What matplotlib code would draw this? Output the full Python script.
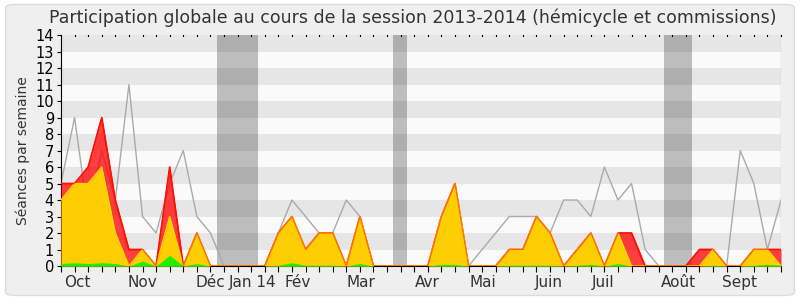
import numpy as np
import matplotlib
matplotlib.use('Agg')
import matplotlib.pyplot as plt
from matplotlib.patches import FancyBboxPatch

# semaines de la session (0 = debut octobre 2013)
semaines = np.arange(54)

rouge = [5, 5, 6, 9, 4, 1, 1, 0, 6, 0, 2, 0, 0, 0, 0, 0, 2, 3, 1, 2, 2, 0, 3, 0, 0, 0, 0,
         0, 3, 5, 0, 0, 0, 1, 1, 3, 2, 0, 1, 2, 0, 2, 2, 0, 0, 0, 0, 1, 1, 0, 0, 1, 1, 1]
jaune = [4, 5, 5, 6, 2, 0, 1, 0, 3, 0, 2, 0, 0, 0, 0, 0, 2, 3, 1, 2, 2, 0, 3, 0, 0, 0, 0,
         0, 3, 5, 0, 0, 0, 1, 1, 3, 2, 0, 1, 2, 0, 2, 0, 0, 0, 0, 0, 0, 1, 0, 0, 1, 1, 0]
vert = [0.15, 0.2, 0.15, 0.2, 0.15, 0, 0.3, 0, 0.65, 0, 0.15, 0, 0, 0, 0, 0, 0.05, 0.2, 0.05,
        0.05, 0.05, 0, 0.15, 0, 0, 0, 0, 0, 0.1, 0.1, 0, 0, 0, 0.05, 0.05, 0.05, 0.05, 0, 0.05,
        0.1, 0, 0.15, 0, 0, 0, 0, 0, 0, 0.05, 0, 0, 0.05, 0.1, 0.05]
gris = [5, 9, 3, 7, 4, 11, 3, 2, 5, 7, 3, 2, 0, 0, 0, 0, 2, 4, 3, 2, 2, 4, 3, 0, 0, 0, 0,
        0, 2, 3, 0, 1, 2, 3, 3, 3, 2, 4, 4, 3, 6, 4, 5, 1, 0, 0, 0, 1, 1, 0, 7, 5, 1, 4]

# vacances (debut, fin) en semaines
vacances = [(11.5, 14.5), (24.45, 25.45), (44.4, 46.45)]

mois = ['Oct', 'Nov', 'Déc', 'Jan 14', 'Fév', 'Mar', 'Avr', 'Mai', 'Juin', 'Juil', 'Août', 'Sept']
pos_mois = [1.18, 5.96, 10.97, 14.13, 17.45, 22.08, 27.0, 31.06, 35.92, 39.9, 45.42, 49.98]

fig = plt.figure(figsize=(8, 3), dpi=100)
fig.patch.set_facecolor('white')
fond = FancyBboxPatch((0.007, 0.015), 0.986, 0.97, boxstyle='round,pad=0,rounding_size=0.012',
                      transform=fig.transFigure, facecolor='#efefef', edgecolor='#dcdcdc',
                      linewidth=1, zorder=-10)
fig.patches.append(fond)

ax = fig.add_axes([0.07625, 0.1133, 0.9, 0.77])
ax.set_facecolor('#fafafa')

# bandes horizontales
for k in range(14):
    if k % 2 == 1:
        ax.axhspan(k, k + 1, color='#e6e6e6', lw=0, zorder=0)
for a, b in vacances:
    ax.axvspan(a, b, color='#0a0a0a', alpha=0.25, lw=0, zorder=1)

ax.plot(semaines, gris, color='#aaaaaa', lw=1, zorder=2)
ax.fill_between(semaines, 0, rouge, color='#ff0000', alpha=0.75, lw=0, zorder=3)
ax.plot(semaines, rouge, color='#ff0000', lw=1.2, zorder=4)
ax.fill_between(semaines, 0, jaune, color='#ffd700', alpha=0.95, lw=0, zorder=5)
ax.plot(semaines, jaune, color='#ffd700', lw=1, zorder=6)
ax.plot(semaines, rouge, color='#ff2000', lw=0.8, alpha=0.6, zorder=7)
ax.fill_between(semaines, 0, vert, color='#22ee00', lw=0, zorder=8)

ax.set_xlim(0, 53)
ax.set_ylim(0, 14)
ax.set_yticks(range(15))
ax.tick_params(axis='y', labelsize=10.5, length=3, pad=2)

ax.set_xticks(semaines)
ax.set_xticklabels([])
ax.tick_params(axis='x', length=4, direction='out')
for x, m in zip(pos_mois, mois):
    ax.text(x, -0.55, m, ha='center', va='top', fontsize=11, color='#333333')

# petits tirets en haut
for x in semaines:
    ax.plot([x, x], [13.93, 14], color='black', lw=0.8, zorder=9, clip_on=False)

for s in ['top', 'right']:
    ax.spines[s].set_visible(False)
ax.spines['left'].set_color('black')
ax.spines['bottom'].set_color('black')
ax.axvline(53, color='#cccccc', lw=1)

ax.set_ylabel('Séances par semaine', fontsize=10, color='#333333', labelpad=4)
fig.text(0.516, 0.94, 'Participation globale au cours de la session 2013-2014 (hémicycle et commissions)',
         ha='center', va='center', fontsize=12.5, color='#333333')

fig.savefig('out.png', dpi=100, facecolor=fig.get_facecolor())
